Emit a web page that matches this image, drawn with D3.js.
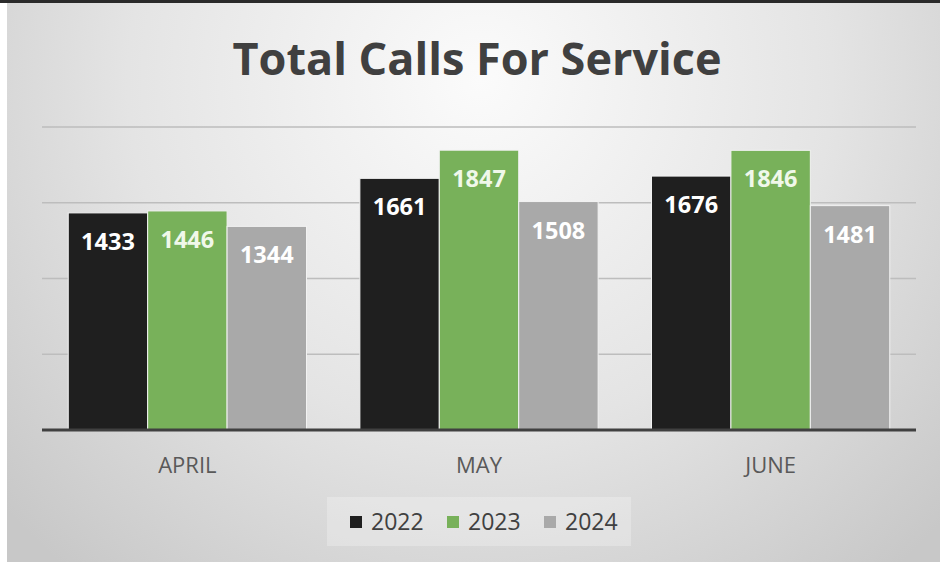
<!DOCTYPE html>
<html>

<head>
    <meta charset="UTF-8">
    <style>
        body { margin: 0; background: #fff; }
        svg { display: block; font-family: "Open Sans", "Noto Sans", sans-serif; }
    </style>
</head>

<body>
    <svg></svg>
    <script src="https://d3js.org/d3.v7.min.js"></script>
    <script>
        let width = 940,
            height = 563;

        // data
        let months = ["APRIL", "MAY", "JUNE"];
        let years = ["2022", "2023", "2024"];
        let calls2022 = [1433, 1661, 1676];
        let calls2023 = [1446, 1847, 1846];
        let calls2024 = [1344, 1508, 1481];
        let gridTicks = [500, 1000, 1500, 2000];

        let series = [calls2022, calls2023, calls2024];
        let data = [];
        months.forEach((m, i) => {
            years.forEach((y, j) => {
                data.push({ month: m, year: y, value: series[j][i] });
            });
        });

        let svg = d3.select("svg")
            .attr("width", width)
            .attr("height", height);

        // background gradient
        let defs = svg.append("defs");
        let grad = defs.append("radialGradient")
            .attr("id", "bg")
            .attr("gradientUnits", "userSpaceOnUse")
            .attr("cx", 480).attr("cy", 80).attr("r", 640);
        grad.append("stop").attr("offset", 0).attr("stop-color", "#fbfbfb");
        grad.append("stop").attr("offset", 0.55).attr("stop-color", "#e4e4e4");
        grad.append("stop").attr("offset", 1).attr("stop-color", "#c8c8c8");

        svg.append("rect")
            .attr("x", 7).attr("y", 3)
            .attr("width", width - 7).attr("height", 559)
            .attr("fill", "url(#bg)");
        svg.append("rect")
            .attr("x", 0).attr("y", 0)
            .attr("width", width).attr("height", 3)
            .attr("fill", "#2a2a2a");

        let colorScale = d3.scaleOrdinal()
            .domain(years)
            .range(["#1f1f1f", "#78b15a", "#a9a9a9"]);

        let x0 = d3.scaleBand()
            .domain(months)
            .range([42, 916])
            .paddingInner(0.183)
            .paddingOuter(0.09);

        let x1 = d3.scaleBand()
            .domain(years)
            .range([0, x0.bandwidth()]);

        let y = d3.scaleLinear()
            .domain([0, 2000])
            .range([430, 127]);

        // gridlines
        svg.append("g")
            .selectAll("line")
            .data(gridTicks)
            .enter()
            .append("line")
            .attr("x1", 42).attr("x2", 916)
            .attr("y1", d => y(d)).attr("y2", d => y(d))
            .attr("stroke", "#bdbdbd")
            .attr("stroke-width", 1.5);

        // title
        svg.append("text")
            .attr("x", 477)
            .attr("y", 75)
            .attr("text-anchor", "middle")
            .style("font-size", "45px")
            .style("font-weight", "bold")
            .style("fill", "#404040")
            .text("Total Calls For Service");

        // bars
        svg.append("g")
            .selectAll("rect")
            .data(data)
            .enter()
            .append("rect")
            .attr("x", d => x0(d.month) + x1(d.year))
            .attr("y", d => y(d.value))
            .attr("width", x1.bandwidth())
            .attr("height", d => y(0) - y(d.value))
            .attr("fill", d => colorScale(d.year))
            .attr("stroke", "#f2f2f2")
            .attr("stroke-width", 1);

        // value labels
        svg.append("g")
            .selectAll("text")
            .data(data)
            .enter()
            .append("text")
            .attr("x", d => x0(d.month) + x1(d.year) + x1.bandwidth() / 2)
            .attr("y", d => y(d.value) + 37)
            .attr("text-anchor", "middle")
            .style("font-size", "23.5px")
            .style("font-weight", "bold")
            .style("fill", d => d.year == "2023" ? "#f0f8ea" : "#ffffff")
            .text(d => d.value);

        // baseline
        svg.append("line")
            .attr("x1", 42).attr("x2", 916)
            .attr("y1", y(0)).attr("y2", y(0))
            .attr("stroke", "#404040")
            .attr("stroke-width", 3);

        // category labels
        svg.append("g")
            .selectAll("text")
            .data(months)
            .enter()
            .append("text")
            .attr("x", d => x0(d) + x0.bandwidth() / 2)
            .attr("y", 473)
            .attr("text-anchor", "middle")
            .style("font-size", "22px")
            .style("fill", "#595959")
            .text(d => d);

        // legend
        let legend = svg.append("g");
        legend.append("rect")
            .attr("x", 327).attr("y", 497)
            .attr("width", 304).attr("height", 49)
            .attr("fill", "#ffffff")
            .attr("fill-opacity", 0.25);

        let legendX = d3.scaleOrdinal()
            .domain(years)
            .range([350, 447, 544]);

        let item = legend.selectAll("g")
            .data(years)
            .enter()
            .append("g");
        item.append("rect")
            .attr("x", d => legendX(d))
            .attr("y", 516)
            .attr("width", 12).attr("height", 12)
            .attr("fill", d => colorScale(d));
        item.append("text")
            .attr("x", d => legendX(d) + 21)
            .attr("y", 530)
            .style("font-size", "23px")
            .style("fill", "#404040")
            .text(d => d);
    </script>
</body>

</html>
